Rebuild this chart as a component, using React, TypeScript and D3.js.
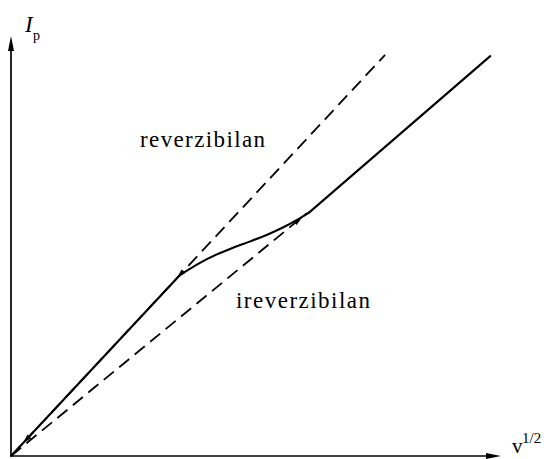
import React from "react";
import * as d3 from "d3";

// Peak current vs. square root of scan rate
const solidSqrtV = [0, 3.456, 3.865, 4.21, 4.54, 4.89, 5.24, 5.56, 5.85, 6.1, 9.8];
const solidIp = [0, 4.31, 4.6, 4.8, 4.96, 5.11, 5.27, 5.44, 5.62, 5.8, 9.52];

const reversibleSqrtV = [0, 7.65];
const reversibleIp = [0, 9.55];

const irreversibleSqrtV = [0, 6.05];
const irreversibleIp = [0, 5.78];

// small direction arrowheads: position and the point they point toward
const arrowAt = [
  { from: [0.6, 0.75], to: [0.25, 0.31] },
  { from: [3.7, 4.62], to: [3.4, 4.24] },
  { from: [5.6, 5.35], to: [5.95, 5.68] },
];

const W = 544;
const H = 459;

export default function App() {
  const x = d3.scaleLinear().domain([0, 10]).range([11, 500]);
  const y = d3.scaleLinear().domain([0, 10]).range([456, 36]);

  const curved = d3
    .line<[number, number]>()
    .x((d) => x(d[0]))
    .y((d) => y(d[1]))
    .curve(d3.curveCatmullRom.alpha(0.5));

  const straight = d3
    .line<[number, number]>()
    .x((d) => x(d[0]))
    .y((d) => y(d[1]));

  const solid = solidSqrtV.map((v, i) => [v, solidIp[i]] as [number, number]);
  const rev = reversibleSqrtV.map((v, i) => [v, reversibleIp[i]] as [number, number]);
  const irr = irreversibleSqrtV.map((v, i) => [v, irreversibleIp[i]] as [number, number]);

  // linear up to the first bend, smooth transition, then linear again
  const last = solid.length - 1;
  const solidPieces = [
    straight(solid.slice(0, 2)),
    curved(solid.slice(1, last)),
    straight(solid.slice(last - 1)),
  ];

  const head = (a: { from: number[]; to: number[] }, k: number) => {
    const x1 = x(a.from[0]);
    const y1 = y(a.from[1]);
    const x2 = x(a.to[0]);
    const y2 = y(a.to[1]);
    const ang = Math.atan2(y2 - y1, x2 - x1);
    const L = 9;
    const w = 2.6;
    const bx = x2 - L * Math.cos(ang);
    const by = y2 - L * Math.sin(ang);
    const px = -Math.sin(ang) * w;
    const py = Math.cos(ang) * w;
    return (
      <path
        key={k}
        d={`M${x2},${y2}L${bx + px},${by + py}L${bx - px},${by - py}Z`}
        fill="#000"
      />
    );
  };

  return (
    <svg
      width={W}
      height={H}
      style={{ position: "absolute", left: 0, top: 0, background: "#fff" }}
      fontFamily="'Liberation Serif', 'Times New Roman', serif"
    >
      {/* axes */}
      <line x1={x(0)} y1={y(0)} x2={x(0)} y2={48} stroke="#000" strokeWidth={1.7} />
      <path d={`M${x(0)},36L${x(0) - 3},51L${x(0) + 3},51Z`} fill="#000" />
      <line x1={x(0)} y1={y(0)} x2={488} y2={y(0)} stroke="#000" strokeWidth={1.7} />
      <path d={`M501,${y(0)}L486,${y(0) - 3}L486,${y(0) + 3}Z`} fill="#000" />

      {/* limiting straight lines */}
      <path d={straight(rev) ?? ""} fill="none" stroke="#000" strokeWidth={1.8} strokeDasharray="13 7" />
      <path d={straight(irr) ?? ""} fill="none" stroke="#000" strokeWidth={1.8} strokeDasharray="13 7" />

      {/* measured response */}
      {solidPieces.map((d, i) => (
        <path key={i} d={d ?? ""} fill="none" stroke="#000" strokeWidth={2.1} strokeLinejoin="round" strokeLinecap="round" />
      ))}

      {arrowAt.map((a, i) => head(a, i))}

      <text x={140} y={147} fontSize={23} textLength={125} lengthAdjust="spacing">reverzibilan</text>
      <text x={236} y={308} fontSize={23} textLength={134} lengthAdjust="spacing">ireverzibilan</text>

      <text x={25} y={32} fontSize={23} fontStyle="italic">I</text>
      <text x={33} y={40} fontSize={14}>p</text>

      <text x={512} y={453} fontSize={21}>v</text>
      <text x={522} y={443} fontSize={15}>1/2</text>
    </svg>
  );
}
